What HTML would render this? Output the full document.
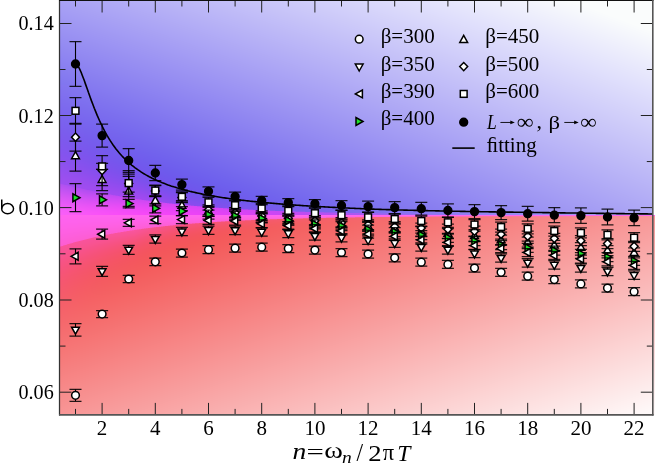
<!DOCTYPE html>
<html><head><meta charset="utf-8"><style>
html,body{margin:0;padding:0;background:#fff;}
body{width:655px;height:464px;overflow:hidden;position:relative;font-family:"Liberation Serif",serif;}
svg{position:absolute;left:0;top:0;will-change:transform;}
.c{stroke-width:1.25;stroke-opacity:0.85;}
.t{font-family:"Liberation Serif",serif;fill:#000;}
</style></head><body>
<svg width="655" height="464" style="position:absolute;left:0;top:0;"><defs>
<linearGradient id="fbB" gradientUnits="userSpaceOnUse" x1="59.5" y1="215" x2="170.6" y2="-127.1"><stop offset="0.00" stop-color="#4432e7"/><stop offset="0.25" stop-color="#6f62ed"/><stop offset="0.50" stop-color="#9e96f3"/><stop offset="0.75" stop-color="#ccc9f9"/><stop offset="1.00" stop-color="#fafcfc"/></linearGradient>
<linearGradient id="fbR" gradientUnits="userSpaceOnUse" x1="59.5" y1="215" x2="180.5" y2="570.7"><stop offset="0.00" stop-color="#f13232"/><stop offset="0.25" stop-color="#f46363"/><stop offset="0.50" stop-color="#f89595"/><stop offset="0.75" stop-color="#fbc6c6"/><stop offset="1.00" stop-color="#fef8f8"/></linearGradient>
<radialGradient id="fbM" gradientUnits="userSpaceOnUse" cx="59" cy="215" r="260" gradientTransform="translate(59 215) scale(1 0.13) translate(-59 -215)"><stop offset="0" stop-color="#ff5ef0" stop-opacity="0.95"/><stop offset="0.5" stop-color="#ff5ef0" stop-opacity="0.5"/><stop offset="1" stop-color="#ff5ef0" stop-opacity="0"/></radialGradient>
</defs><rect x="59" y="0" width="594" height="215" fill="url(#fbB)"/><rect x="59" y="215" width="594" height="200" fill="url(#fbR)"/><rect x="59" y="150" width="594" height="130" fill="url(#fbM)"/></svg>
<canvas id="bgc" width="596" height="415" style="position:absolute;left:59px;top:0px;"></canvas>
<script>
(function(){
var c=document.getElementById('bgc');var ctx=c.getContext('2d');
var W=c.width,H=c.height;var im=ctx.createImageData(W,H);var d=im.data;
var YB=215.0;
function cl(v){return v<0?0:(v>255?255:v);}
function glow(x,dd){
 var ad=Math.abs(dd),L,T,a1,a2,a0=0.97;
 if(dd<0){L=0.5+31*Math.exp(-Math.pow((x-59)/108,1.1)); a0=0.97*Math.exp(-Math.pow((x-59)/300,3)); a1=a0*(1-0.45*Math.min(1,L/25)); a2=0.45*Math.min(1,L/15); T=1.35*L;}
 else {L=1.0+31*Math.exp(-(x-59)/95); a1=0.8; a2=0.5*Math.min(1,L/15); T=1.13*L;}
 if(ad<L){return a0-(a0-a1)*Math.pow(ad/L,1.5);}
 return a2*Math.exp(-Math.pow((ad-L)/T,1.3));
}
for(var j=0;j<H;j++){var y=j+0.5;
 for(var i=0;i<W;i++){var x=i+59.5;
  var r,g,b;
  if(y<YB){
   var G=151.7+0.1762*x-0.542*y+0.0001169*x*y; if(G<50)G=50; if(G>252)G=252;
   r=G+3+0.1*(200-G); if(r>255)r=255; g=G; b=Math.min(252,225+0.12*G);
  } else {
   var v=103.5+0.17*(x-64)+0.5*(y-321); if(v<50)v=50; if(v>248)v=248;
   r=238+0.065*v; g=v; b=v;
  }
  var dd=y-YB; var a=0;
  if(Math.abs(dd)<130){
   var s=0; for(var q=0;q<4;q++){var yy=j+0.125+0.25*q; var d2=yy-YB; if(dd<0&&d2>=0)d2=-0.001; if(dd>=0&&d2<0)d2=0.001; s+=glow(x,d2);} a=s/4;
  }
  if(a>0.002){
   var gg,bb; if(dd<0){gg=55+40*Math.exp(-(x-64)/100); bb=248;} else {gg=100; bb=245;}
   r=r+a*(255-r); g=g+a*(gg-g); b=b+a*(bb-b);
  }
  if(x>653&&y<YB){r=255;g=255;b=255;}
  var k=(j*W+i)*4; d[k]=cl(r);d[k+1]=cl(g);d[k+2]=cl(b);d[k+3]=255;
 }}
ctx.putImageData(im,0,0);
})();
</script>

<svg width="655" height="464" viewBox="0 0 655 464">

<path d="M75.5 63.52 L76.9 64.52 L78.4 66.61 L79.8 69.41 L81.3 72.73 L82.7 76.41 L84.2 80.32 L85.6 84.37 L87.1 88.48 L88.5 92.59 L90.0 96.66 L91.4 100.64 L92.9 104.53 L94.3 108.29 L95.8 111.91 L97.2 115.40 L98.7 118.75 L100.1 121.95 L101.6 125.01 L103.0 127.94 L104.4 130.73 L105.9 133.40 L107.3 135.94 L108.8 138.36 L110.2 140.67 L111.7 142.88 L113.1 144.99 L114.6 147.00 L116.0 148.92 L117.5 150.75 L118.9 152.51 L120.4 154.19 L121.8 155.79 L123.3 157.33 L124.7 158.80 L126.2 160.22 L127.6 161.57 L129.1 162.88 L130.5 164.13 L131.9 165.33 L133.4 166.48 L134.8 167.59 L136.3 168.66 L137.7 169.69 L139.2 170.68 L140.6 171.64 L142.1 172.57 L143.5 173.46 L145.0 174.32 L146.4 175.15 L147.9 175.95 L149.3 176.73 L150.8 177.48 L152.2 178.21 L153.7 178.92 L155.1 179.60 L156.6 180.26 L158.0 180.90 L159.4 181.53 L160.9 182.13 L162.3 182.72 L163.8 183.29 L165.2 183.84 L166.7 184.38 L168.1 184.90 L169.6 185.41 L171.0 185.91 L172.5 186.39 L173.9 186.86 L175.4 187.31 L176.8 187.76 L178.3 188.19 L179.7 188.61 L181.2 189.03 L182.6 189.43 L184.1 189.82 L185.5 190.20 L186.9 190.58 L188.4 190.94 L189.8 191.30 L191.3 191.65 L192.7 191.99 L194.2 192.32 L195.6 192.64 L197.1 192.96 L198.5 193.27 L200.0 193.58 L201.4 193.87 L202.9 194.17 L204.3 194.45 L205.8 194.73 L207.2 195.00 L208.7 195.27 L210.1 195.53 L211.6 195.79 L213.0 196.04 L214.4 196.29 L215.9 196.53 L217.3 196.77 L218.8 197.00 L220.2 197.23 L221.7 197.46 L223.1 197.68 L224.6 197.89 L226.0 198.10 L227.5 198.31 L228.9 198.52 L230.4 198.72 L231.8 198.91 L233.3 199.11 L234.7 199.30 L236.2 199.49 L237.6 199.67 L239.1 199.85 L240.5 200.03 L241.9 200.20 L243.4 200.38 L244.8 200.54 L246.3 200.71 L247.7 200.87 L249.2 201.04 L250.6 201.19 L252.1 201.35 L253.5 201.50 L255.0 201.65 L256.4 201.80 L257.9 201.95 L259.3 202.09 L260.8 202.24 L262.2 202.38 L263.7 202.51 L265.1 202.65 L266.6 202.78 L268.0 202.92 L269.4 203.05 L270.9 203.17 L272.3 203.30 L273.8 203.42 L275.2 203.55 L276.7 203.67 L278.1 203.79 L279.6 203.90 L281.0 204.02 L282.5 204.14 L283.9 204.25 L285.4 204.36 L286.8 204.47 L288.3 204.58 L289.7 204.68 L291.2 204.79 L292.6 204.89 L294.1 205.00 L295.5 205.10 L296.9 205.20 L298.4 205.30 L299.8 205.40 L301.3 205.49 L302.7 205.59 L304.2 205.68 L305.6 205.77 L307.1 205.87 L308.5 205.96 L310.0 206.05 L311.4 206.14 L312.9 206.22 L314.3 206.31 L315.8 206.39 L317.2 206.48 L318.7 206.56 L320.1 206.64 L321.6 206.73 L323.0 206.81 L324.4 206.89 L325.9 206.96 L327.3 207.04 L328.8 207.12 L330.2 207.20 L331.7 207.27 L333.1 207.35 L334.6 207.42 L336.0 207.49 L337.5 207.56 L338.9 207.63 L340.4 207.71 L341.8 207.77 L343.3 207.84 L344.7 207.91 L346.2 207.98 L347.6 208.05 L349.1 208.11 L350.5 208.18 L351.9 208.24 L353.4 208.31 L354.8 208.37 L356.3 208.43 L357.7 208.49 L359.2 208.56 L360.6 208.62 L362.1 208.68 L363.5 208.74 L365.0 208.80 L366.4 208.85 L367.9 208.91 L369.3 208.97 L370.8 209.03 L372.2 209.08 L373.7 209.14 L375.1 209.19 L376.6 209.25 L378.0 209.30 L379.4 209.36 L380.9 209.40 L382.3 209.45 L383.8 209.50 L385.2 209.54 L386.7 209.58 L388.1 209.63 L389.6 209.67 L391.0 209.72 L392.5 209.76 L393.9 209.80 L395.4 209.84 L396.8 209.88 L398.3 209.92 L399.7 209.96 L401.2 210.00 L402.6 210.04 L404.1 210.08 L405.5 210.12 L406.9 210.16 L408.4 210.20 L409.8 210.24 L411.3 210.27 L412.7 210.31 L414.2 210.35 L415.6 210.38 L417.1 210.42 L418.5 210.45 L420.0 210.49 L421.4 210.52 L422.9 210.56 L424.3 210.59 L425.8 210.62 L427.2 210.66 L428.7 210.69 L430.1 210.72 L431.6 210.76 L433.0 210.79 L434.4 210.82 L435.9 210.85 L437.3 210.88 L438.8 210.91 L440.2 210.94 L441.7 210.97 L443.1 211.00 L444.6 211.03 L446.0 211.06 L447.5 211.09 L448.9 211.12 L450.4 211.15 L451.8 211.18 L453.3 211.21 L454.7 211.23 L456.2 211.26 L457.6 211.29 L459.1 211.32 L460.5 211.34 L461.9 211.37 L463.4 211.39 L464.8 211.42 L466.3 211.45 L467.7 211.47 L469.2 211.50 L470.6 211.52 L472.1 211.55 L473.5 211.57 L475.0 211.60 L476.4 211.62 L477.9 211.64 L479.3 211.67 L480.8 211.69 L482.2 211.71 L483.7 211.74 L485.1 211.76 L486.6 211.78 L488.0 211.80 L489.4 211.83 L490.9 211.85 L492.3 211.87 L493.8 211.89 L495.2 211.91 L496.7 211.93 L498.1 211.96 L499.6 211.98 L501.0 212.00 L502.5 212.02 L503.9 212.04 L505.4 212.06 L506.8 212.08 L508.3 212.10 L509.7 212.12 L511.2 212.14 L512.6 212.16 L514.1 212.18 L515.5 212.19 L516.9 212.21 L518.4 212.23 L519.8 212.25 L521.3 212.27 L522.7 212.29 L524.2 212.30 L525.6 212.32 L527.1 212.34 L528.5 212.36 L530.0 212.37 L531.4 212.40 L532.9 212.42 L534.3 212.44 L535.8 212.47 L537.2 212.49 L538.7 212.51 L540.1 212.54 L541.6 212.56 L543.0 212.58 L544.4 212.61 L545.9 212.63 L547.3 212.65 L548.8 212.67 L550.2 212.69 L551.7 212.72 L553.1 212.74 L554.6 212.76 L556.0 212.78 L557.5 212.80 L558.9 212.82 L560.4 212.84 L561.8 212.87 L563.3 212.89 L564.7 212.91 L566.2 212.93 L567.6 212.95 L569.1 212.97 L570.5 212.99 L571.9 213.01 L573.4 213.03 L574.8 213.05 L576.3 213.07 L577.7 213.09 L579.2 213.11 L580.6 213.13 L582.1 213.15 L583.5 213.17 L585.0 213.18 L586.4 213.20 L587.9 213.22 L589.3 213.24 L590.8 213.26 L592.2 213.28 L593.7 213.30 L595.1 213.32 L596.6 213.33 L598.0 213.35 L599.4 213.37 L600.9 213.39 L602.3 213.41 L603.8 213.42 L605.2 213.44 L606.7 213.46 L608.1 213.48 L609.6 213.49 L611.0 213.51 L612.5 213.53 L613.9 213.54 L615.4 213.56 L616.8 213.58 L618.3 213.60 L619.7 213.61 L621.2 213.63 L622.6 213.65 L624.1 213.66 L625.5 213.68 L626.9 213.69 L628.4 213.71 L629.8 213.73 L631.3 213.74 L632.7 213.76 L634.2 213.77 L635.6 213.79 L637.1 213.81 L638.5 213.82 L640.0 213.84 L641.4 213.85 L642.9 213.87 L644.3 213.88 L645.8 213.90 L647.2 213.91 L648.7 213.93 L650.1 213.94 L651.6 213.96 L653.0 213.97" stroke="#000" stroke-width="1.6" fill="none"/>
<g stroke="#000" stroke-width="1.1" fill="none"><path d="M75.5 389.3V401.3"/><path class="c" d="M69.5 389.3H81.5M69.5 401.3H81.5"/><path d="M102.1 310.6V317.6"/><path class="c" d="M96.1 310.6H108.1M96.1 317.6H108.1"/><path d="M128.7 275.4V282.6"/><path class="c" d="M122.7 275.4H134.7M122.7 282.6H134.7"/><path d="M155.3 258V265.6"/><path class="c" d="M149.3 258H161.3M149.3 265.6H161.3"/><path d="M181.9 249V257"/><path class="c" d="M175.9 249H187.9M175.9 257H187.9"/><path d="M208.5 245.7V253.7"/><path class="c" d="M202.5 245.7H214.5M202.5 253.7H214.5"/><path d="M235.1 244.2V252.2"/><path class="c" d="M229.1 244.2H241.1M229.1 252.2H241.1"/><path d="M261.7 243.2V251.2"/><path class="c" d="M255.7 243.2H267.7M255.7 251.2H267.7"/><path d="M288.3 244.5V252.5"/><path class="c" d="M282.3 244.5H294.3M282.3 252.5H294.3"/><path d="M314.9 246.1V254.1"/><path class="c" d="M308.9 246.1H320.9M308.9 254.1H320.9"/><path d="M341.5 248.5V256.5"/><path class="c" d="M335.5 248.5H347.5M335.5 256.5H347.5"/><path d="M368.1 250V258"/><path class="c" d="M362.1 250H374.1M362.1 258H374.1"/><path d="M394.7 253.8V261.8"/><path class="c" d="M388.7 253.8H400.7M388.7 261.8H400.7"/><path d="M421.3 258.2V266.2"/><path class="c" d="M415.3 258.2H427.3M415.3 266.2H427.3"/><path d="M447.9 260.4V268.4"/><path class="c" d="M441.9 260.4H453.9M441.9 268.4H453.9"/><path d="M474.5 264V272"/><path class="c" d="M468.5 264H480.5M468.5 272H480.5"/><path d="M501.1 268.3V276.3"/><path class="c" d="M495.1 268.3H507.1M495.1 276.3H507.1"/><path d="M527.7 272.2V280.2"/><path class="c" d="M521.7 272.2H533.7M521.7 280.2H533.7"/><path d="M554.3 275.6V283.6"/><path class="c" d="M548.3 275.6H560.3M548.3 283.6H560.3"/><path d="M580.9 279.9V287.9"/><path class="c" d="M574.9 279.9H586.9M574.9 287.9H586.9"/><path d="M607.5 284.1V292.1"/><path class="c" d="M601.5 284.1H613.5M601.5 292.1H613.5"/><path d="M634.1 287.7V295.7"/><path class="c" d="M628.1 287.7H640.1M628.1 295.7H640.1"/></g><g stroke="#000" stroke-width="1.5"><circle cx="75.5" cy="395.3" r="3.85" fill="#fff"/><circle cx="102.1" cy="314.1" r="3.85" fill="#fff"/><circle cx="128.7" cy="279" r="3.85" fill="#fff"/><circle cx="155.3" cy="261.8" r="3.85" fill="#fff"/><circle cx="181.9" cy="253" r="3.85" fill="#fff"/><circle cx="208.5" cy="249.7" r="3.85" fill="#fff"/><circle cx="235.1" cy="248.2" r="3.85" fill="#fff"/><circle cx="261.7" cy="247.2" r="3.85" fill="#fff"/><circle cx="288.3" cy="248.5" r="3.85" fill="#fff"/><circle cx="314.9" cy="250.1" r="3.85" fill="#fff"/><circle cx="341.5" cy="252.5" r="3.85" fill="#fff"/><circle cx="368.1" cy="254" r="3.85" fill="#fff"/><circle cx="394.7" cy="257.8" r="3.85" fill="#fff"/><circle cx="421.3" cy="262.2" r="3.85" fill="#fff"/><circle cx="447.9" cy="264.4" r="3.85" fill="#fff"/><circle cx="474.5" cy="268" r="3.85" fill="#fff"/><circle cx="501.1" cy="272.3" r="3.85" fill="#fff"/><circle cx="527.7" cy="276.2" r="3.85" fill="#fff"/><circle cx="554.3" cy="279.6" r="3.85" fill="#fff"/><circle cx="580.9" cy="283.9" r="3.85" fill="#fff"/><circle cx="607.5" cy="288.1" r="3.85" fill="#fff"/><circle cx="634.1" cy="291.7" r="3.85" fill="#fff"/></g><g stroke="#000" stroke-width="1.1" fill="none"><path d="M75.5 323.5V336.1"/><path class="c" d="M69.5 323.5H81.5M69.5 336.1H81.5"/><path d="M102.1 266.3V276.3"/><path class="c" d="M96.1 266.3H108.1M96.1 276.3H108.1"/><path d="M128.7 245.3V254.3"/><path class="c" d="M122.7 245.3H134.7M122.7 254.3H134.7"/><path d="M155.3 234.8V243.2"/><path class="c" d="M149.3 234.8H161.3M149.3 243.2H161.3"/><path d="M181.9 227.3V235.7"/><path class="c" d="M175.9 227.3H187.9M175.9 235.7H187.9"/><path d="M208.5 226V234.4"/><path class="c" d="M202.5 226H214.5M202.5 234.4H214.5"/><path d="M235.1 226.1V234.5"/><path class="c" d="M229.1 226.1H241.1M229.1 234.5H241.1"/><path d="M261.7 227.7V236.1"/><path class="c" d="M255.7 227.7H267.7M255.7 236.1H267.7"/><path d="M288.3 229.2V237.6"/><path class="c" d="M282.3 229.2H294.3M282.3 237.6H294.3"/><path d="M314.9 231.8V240.2"/><path class="c" d="M308.9 231.8H320.9M308.9 240.2H320.9"/><path d="M341.5 233.5V241.9"/><path class="c" d="M335.5 233.5H347.5M335.5 241.9H347.5"/><path d="M368.1 235.9V244.3"/><path class="c" d="M362.1 235.9H374.1M362.1 244.3H374.1"/><path d="M394.7 238.9V247.3"/><path class="c" d="M388.7 238.9H400.7M388.7 247.3H400.7"/><path d="M421.3 242.8V251.2"/><path class="c" d="M415.3 242.8H427.3M415.3 251.2H427.3"/><path d="M447.9 245.6V254"/><path class="c" d="M441.9 245.6H453.9M441.9 254H453.9"/><path d="M474.5 249.3V257.7"/><path class="c" d="M468.5 249.3H480.5M468.5 257.7H480.5"/><path d="M501.1 253.8V262.2"/><path class="c" d="M495.1 253.8H507.1M495.1 262.2H507.1"/><path d="M527.7 258.6V267"/><path class="c" d="M521.7 258.6H533.7M521.7 267H533.7"/><path d="M554.3 260.7V269.1"/><path class="c" d="M548.3 260.7H560.3M548.3 269.1H560.3"/><path d="M580.9 263.8V272.2"/><path class="c" d="M574.9 263.8H586.9M574.9 272.2H586.9"/><path d="M607.5 267.3V275.7"/><path class="c" d="M601.5 267.3H613.5M601.5 275.7H613.5"/><path d="M634.1 270.9V279.3"/><path class="c" d="M628.1 270.9H640.1M628.1 279.3H640.1"/></g><g stroke="#000" stroke-width="1.5"><path d="M75.5 334.2L79.4 327.2L71.6 327.2Z" fill="#fff"/><path d="M102.1 275.7L106 268.7L98.2 268.7Z" fill="#fff"/><path d="M128.7 254.2L132.6 247.2L124.8 247.2Z" fill="#fff"/><path d="M155.3 243.4L159.2 236.4L151.4 236.4Z" fill="#fff"/><path d="M181.9 235.9L185.8 228.9L178 228.9Z" fill="#fff"/><path d="M208.5 234.6L212.4 227.6L204.6 227.6Z" fill="#fff"/><path d="M235.1 234.7L239 227.7L231.2 227.7Z" fill="#fff"/><path d="M261.7 236.3L265.6 229.3L257.8 229.3Z" fill="#fff"/><path d="M288.3 237.8L292.2 230.8L284.4 230.8Z" fill="#fff"/><path d="M314.9 240.4L318.8 233.4L311 233.4Z" fill="#fff"/><path d="M341.5 242.1L345.4 235.1L337.6 235.1Z" fill="#fff"/><path d="M368.1 244.5L372 237.5L364.2 237.5Z" fill="#fff"/><path d="M394.7 247.5L398.6 240.5L390.8 240.5Z" fill="#fff"/><path d="M421.3 251.4L425.2 244.4L417.4 244.4Z" fill="#fff"/><path d="M447.9 254.2L451.8 247.2L444 247.2Z" fill="#fff"/><path d="M474.5 257.9L478.4 250.9L470.6 250.9Z" fill="#fff"/><path d="M501.1 262.4L505 255.4L497.2 255.4Z" fill="#fff"/><path d="M527.7 267.2L531.6 260.2L523.8 260.2Z" fill="#fff"/><path d="M554.3 269.3L558.2 262.3L550.4 262.3Z" fill="#fff"/><path d="M580.9 272.4L584.8 265.4L577 265.4Z" fill="#fff"/><path d="M607.5 275.9L611.4 268.9L603.6 268.9Z" fill="#fff"/><path d="M634.1 279.5L638 272.5L630.2 272.5Z" fill="#fff"/></g><g stroke="#000" stroke-width="1.1" fill="none"><path d="M75.5 141.1V171.1"/><path class="c" d="M69.5 141.1H81.5M69.5 171.1H81.5"/><path d="M102.1 169.3V190.5"/><path class="c" d="M96.1 169.3H108.1M96.1 190.5H108.1"/><path d="M128.7 176.4V206.4"/><path class="c" d="M122.7 176.4H134.7M122.7 206.4H134.7"/><path d="M155.3 195.8V205.8"/><path class="c" d="M149.3 195.8H161.3M149.3 205.8H161.3"/><path d="M181.9 200.6V210.6"/><path class="c" d="M175.9 200.6H187.9M175.9 210.6H187.9"/><path d="M208.5 206.3V216.3"/><path class="c" d="M202.5 206.3H214.5M202.5 216.3H214.5"/><path d="M235.1 209.2V219.2"/><path class="c" d="M229.1 209.2H241.1M229.1 219.2H241.1"/><path d="M261.7 212.4V222.4"/><path class="c" d="M255.7 212.4H267.7M255.7 222.4H267.7"/><path d="M288.3 214.8V224.8"/><path class="c" d="M282.3 214.8H294.3M282.3 224.8H294.3"/><path d="M314.9 217.2V227.2"/><path class="c" d="M308.9 217.2H320.9M308.9 227.2H320.9"/><path d="M341.5 219.2V229.2"/><path class="c" d="M335.5 219.2H347.5M335.5 229.2H347.5"/><path d="M368.1 221.3V231.3"/><path class="c" d="M362.1 221.3H374.1M362.1 231.3H374.1"/><path d="M394.7 223V233"/><path class="c" d="M388.7 223H400.7M388.7 233H400.7"/><path d="M421.3 226.5V236.5"/><path class="c" d="M415.3 226.5H427.3M415.3 236.5H427.3"/><path d="M447.9 228.7V238.7"/><path class="c" d="M441.9 228.7H453.9M441.9 238.7H453.9"/><path d="M474.5 231V241"/><path class="c" d="M468.5 231H480.5M468.5 241H480.5"/><path d="M501.1 235.1V245.1"/><path class="c" d="M495.1 235.1H507.1M495.1 245.1H507.1"/><path d="M527.7 237.2V247.2"/><path class="c" d="M521.7 237.2H533.7M521.7 247.2H533.7"/><path d="M554.3 240.3V250.3"/><path class="c" d="M548.3 240.3H560.3M548.3 250.3H560.3"/><path d="M580.9 242.6V252.6"/><path class="c" d="M574.9 242.6H586.9M574.9 252.6H586.9"/><path d="M607.5 245.5V255.5"/><path class="c" d="M601.5 245.5H613.5M601.5 255.5H613.5"/><path d="M634.1 247.8V257.8"/><path class="c" d="M628.1 247.8H640.1M628.1 257.8H640.1"/></g><g stroke="#000" stroke-width="1.5"><path d="M75.5 151.7L79.4 158.7L71.6 158.7Z" fill="#fff"/><path d="M102.1 175.5L106 182.5L98.2 182.5Z" fill="#fff"/><path d="M128.7 187L132.6 194L124.8 194Z" fill="#fff"/><path d="M155.3 196.4L159.2 203.4L151.4 203.4Z" fill="#fff"/><path d="M181.9 201.2L185.8 208.2L178 208.2Z" fill="#fff"/><path d="M208.5 206.9L212.4 213.9L204.6 213.9Z" fill="#fff"/><path d="M235.1 209.8L239 216.8L231.2 216.8Z" fill="#fff"/><path d="M261.7 213L265.6 220L257.8 220Z" fill="#fff"/><path d="M288.3 215.4L292.2 222.4L284.4 222.4Z" fill="#fff"/><path d="M314.9 217.8L318.8 224.8L311 224.8Z" fill="#fff"/><path d="M341.5 219.8L345.4 226.8L337.6 226.8Z" fill="#fff"/><path d="M368.1 221.9L372 228.9L364.2 228.9Z" fill="#fff"/><path d="M394.7 223.6L398.6 230.6L390.8 230.6Z" fill="#fff"/><path d="M421.3 227.1L425.2 234.1L417.4 234.1Z" fill="#fff"/><path d="M447.9 229.3L451.8 236.3L444 236.3Z" fill="#fff"/><path d="M474.5 231.6L478.4 238.6L470.6 238.6Z" fill="#fff"/><path d="M501.1 235.7L505 242.7L497.2 242.7Z" fill="#fff"/><path d="M527.7 237.8L531.6 244.8L523.8 244.8Z" fill="#fff"/><path d="M554.3 240.9L558.2 247.9L550.4 247.9Z" fill="#fff"/><path d="M580.9 243.2L584.8 250.2L577 250.2Z" fill="#fff"/><path d="M607.5 246.1L611.4 253.1L603.6 253.1Z" fill="#fff"/><path d="M634.1 248.4L638 255.4L630.2 255.4Z" fill="#fff"/></g><g stroke="#000" stroke-width="1.1" fill="none"><path d="M75.5 123.4V151"/><path class="c" d="M69.5 123.4H81.5M69.5 151H81.5"/><path d="M102.1 155.5V185.5"/><path class="c" d="M96.1 155.5H108.1M96.1 185.5H108.1"/><path d="M128.7 170.6V196.6"/><path class="c" d="M122.7 170.6H134.7M122.7 196.6H134.7"/><path d="M155.3 185.5V196.5"/><path class="c" d="M149.3 185.5H161.3M149.3 196.5H161.3"/><path d="M181.9 192.6V202.6"/><path class="c" d="M175.9 192.6H187.9M175.9 202.6H187.9"/><path d="M208.5 204.8V214.8"/><path class="c" d="M202.5 204.8H214.5M202.5 214.8H214.5"/><path d="M235.1 207.7V217.7"/><path class="c" d="M229.1 207.7H241.1M229.1 217.7H241.1"/><path d="M261.7 210.9V220.9"/><path class="c" d="M255.7 210.9H267.7M255.7 220.9H267.7"/><path d="M288.3 213.3V223.3"/><path class="c" d="M282.3 213.3H294.3M282.3 223.3H294.3"/><path d="M314.9 215.7V225.7"/><path class="c" d="M308.9 215.7H320.9M308.9 225.7H320.9"/><path d="M341.5 217.7V227.7"/><path class="c" d="M335.5 217.7H347.5M335.5 227.7H347.5"/><path d="M368.1 219.8V229.8"/><path class="c" d="M362.1 219.8H374.1M362.1 229.8H374.1"/><path d="M394.7 221.5V231.5"/><path class="c" d="M388.7 221.5H400.7M388.7 231.5H400.7"/><path d="M421.3 223V233"/><path class="c" d="M415.3 223H427.3M415.3 233H427.3"/><path d="M447.9 224.2V234.2"/><path class="c" d="M441.9 224.2H453.9M441.9 234.2H453.9"/><path d="M474.5 226.2V236.2"/><path class="c" d="M468.5 226.2H480.5M468.5 236.2H480.5"/><path d="M501.1 229.2V239.2"/><path class="c" d="M495.1 229.2H507.1M495.1 239.2H507.1"/><path d="M527.7 231.2V241.2"/><path class="c" d="M521.7 231.2H533.7M521.7 241.2H533.7"/><path d="M554.3 233.4V243.4"/><path class="c" d="M548.3 233.4H560.3M548.3 243.4H560.3"/><path d="M580.9 235.7V245.7"/><path class="c" d="M574.9 235.7H586.9M574.9 245.7H586.9"/><path d="M607.5 238.6V248.6"/><path class="c" d="M601.5 238.6H613.5M601.5 248.6H613.5"/><path d="M634.1 241.3V251.3"/><path class="c" d="M628.1 241.3H640.1M628.1 251.3H640.1"/></g><g stroke="#000" stroke-width="1.5"><path d="M75.5 133.1L79.45 137.2L75.5 141.3L71.55 137.2Z" fill="#fff"/><path d="M102.1 166.4L106.05 170.5L102.1 174.6L98.15 170.5Z" fill="#fff"/><path d="M128.7 179.5L132.65 183.6L128.7 187.7L124.75 183.6Z" fill="#fff"/><path d="M155.3 186.9L159.25 191L155.3 195.1L151.35 191Z" fill="#fff"/><path d="M181.9 193.5L185.85 197.6L181.9 201.7L177.95 197.6Z" fill="#fff"/><path d="M208.5 205.7L212.45 209.8L208.5 213.9L204.55 209.8Z" fill="#fff"/><path d="M235.1 208.6L239.05 212.7L235.1 216.8L231.15 212.7Z" fill="#fff"/><path d="M261.7 211.8L265.65 215.9L261.7 220L257.75 215.9Z" fill="#fff"/><path d="M288.3 214.2L292.25 218.3L288.3 222.4L284.35 218.3Z" fill="#fff"/><path d="M314.9 216.6L318.85 220.7L314.9 224.8L310.95 220.7Z" fill="#fff"/><path d="M341.5 218.6L345.45 222.7L341.5 226.8L337.55 222.7Z" fill="#fff"/><path d="M368.1 220.7L372.05 224.8L368.1 228.9L364.15 224.8Z" fill="#fff"/><path d="M394.7 222.4L398.65 226.5L394.7 230.6L390.75 226.5Z" fill="#fff"/><path d="M421.3 223.9L425.25 228L421.3 232.1L417.35 228Z" fill="#fff"/><path d="M447.9 225.1L451.85 229.2L447.9 233.3L443.95 229.2Z" fill="#fff"/><path d="M474.5 227.1L478.45 231.2L474.5 235.3L470.55 231.2Z" fill="#fff"/><path d="M501.1 230.1L505.05 234.2L501.1 238.3L497.15 234.2Z" fill="#fff"/><path d="M527.7 232.1L531.65 236.2L527.7 240.3L523.75 236.2Z" fill="#fff"/><path d="M554.3 234.3L558.25 238.4L554.3 242.5L550.35 238.4Z" fill="#fff"/><path d="M580.9 236.6L584.85 240.7L580.9 244.8L576.95 240.7Z" fill="#fff"/><path d="M607.5 239.5L611.45 243.6L607.5 247.7L603.55 243.6Z" fill="#fff"/><path d="M634.1 242.2L638.05 246.3L634.1 250.4L630.15 246.3Z" fill="#fff"/></g><g stroke="#000" stroke-width="1.1" fill="none"><path d="M75.5 183.7V211.7"/><path class="c" d="M69.5 183.7H81.5M69.5 211.7H81.5"/><path d="M102.1 193.8V205.8"/><path class="c" d="M96.1 193.8H108.1M96.1 205.8H108.1"/><path d="M128.7 199.4V207.8"/><path class="c" d="M122.7 199.4H134.7M122.7 207.8H134.7"/><path d="M155.3 203.8V212.8"/><path class="c" d="M149.3 203.8H161.3M149.3 212.8H161.3"/><path d="M181.9 206.7V215.7"/><path class="c" d="M175.9 206.7H187.9M175.9 215.7H187.9"/><path d="M208.5 210.2V219.2"/><path class="c" d="M202.5 210.2H214.5M202.5 219.2H214.5"/><path d="M235.1 211.4V220.4"/><path class="c" d="M229.1 211.4H241.1M229.1 220.4H241.1"/><path d="M261.7 213.9V222.9"/><path class="c" d="M255.7 213.9H267.7M255.7 222.9H267.7"/><path d="M288.3 216V225"/><path class="c" d="M282.3 216H294.3M282.3 225H294.3"/><path d="M314.9 219.8V228.8"/><path class="c" d="M308.9 219.8H320.9M308.9 228.8H320.9"/><path d="M341.5 221.5V230.5"/><path class="c" d="M335.5 221.5H347.5M335.5 230.5H347.5"/><path d="M368.1 225.1V234.1"/><path class="c" d="M362.1 225.1H374.1M362.1 234.1H374.1"/><path d="M394.7 227.5V236.5"/><path class="c" d="M388.7 227.5H400.7M388.7 236.5H400.7"/><path d="M421.3 230.5V239.5"/><path class="c" d="M415.3 230.5H427.3M415.3 239.5H427.3"/><path d="M447.9 233.3V242.3"/><path class="c" d="M441.9 233.3H453.9M441.9 242.3H453.9"/><path d="M474.5 236.5V245.5"/><path class="c" d="M468.5 236.5H480.5M468.5 245.5H480.5"/><path d="M501.1 240.5V249.5"/><path class="c" d="M495.1 240.5H507.1M495.1 249.5H507.1"/><path d="M527.7 243.3V252.3"/><path class="c" d="M521.7 243.3H533.7M521.7 252.3H533.7"/><path d="M554.3 246.2V255.2"/><path class="c" d="M548.3 246.2H560.3M548.3 255.2H560.3"/><path d="M580.9 249.3V258.3"/><path class="c" d="M574.9 249.3H586.9M574.9 258.3H586.9"/><path d="M607.5 252.6V261.6"/><path class="c" d="M601.5 252.6H613.5M601.5 261.6H613.5"/><path d="M634.1 256.4V265.4"/><path class="c" d="M628.1 256.4H640.1M628.1 265.4H640.1"/></g><g stroke="#000" stroke-width="1.5"><path d="M79.9 197.7L72.9 193.8L72.9 201.6Z" fill="#1ee22a"/><path d="M106.5 199.8L99.5 195.9L99.5 203.7Z" fill="#1ee22a"/><path d="M133.1 203.6L126.1 199.7L126.1 207.5Z" fill="#1ee22a"/><path d="M159.7 208.3L152.7 204.4L152.7 212.2Z" fill="#1ee22a"/><path d="M186.3 211.2L179.3 207.3L179.3 215.1Z" fill="#1ee22a"/><path d="M212.9 214.7L205.9 210.8L205.9 218.6Z" fill="#1ee22a"/><path d="M239.5 215.9L232.5 212L232.5 219.8Z" fill="#1ee22a"/><path d="M266.1 218.4L259.1 214.5L259.1 222.3Z" fill="#1ee22a"/><path d="M292.7 220.5L285.7 216.6L285.7 224.4Z" fill="#1ee22a"/><path d="M319.3 224.3L312.3 220.4L312.3 228.2Z" fill="#1ee22a"/><path d="M345.9 226L338.9 222.1L338.9 229.9Z" fill="#1ee22a"/><path d="M372.5 229.6L365.5 225.7L365.5 233.5Z" fill="#1ee22a"/><path d="M399.1 232L392.1 228.1L392.1 235.9Z" fill="#1ee22a"/><path d="M425.7 235L418.7 231.1L418.7 238.9Z" fill="#1ee22a"/><path d="M452.3 237.8L445.3 233.9L445.3 241.7Z" fill="#1ee22a"/><path d="M478.9 241L471.9 237.1L471.9 244.9Z" fill="#1ee22a"/><path d="M505.5 245L498.5 241.1L498.5 248.9Z" fill="#1ee22a"/><path d="M532.1 247.8L525.1 243.9L525.1 251.7Z" fill="#1ee22a"/><path d="M558.7 250.7L551.7 246.8L551.7 254.6Z" fill="#1ee22a"/><path d="M585.3 253.8L578.3 249.9L578.3 257.7Z" fill="#1ee22a"/><path d="M611.9 257.1L604.9 253.2L604.9 261Z" fill="#1ee22a"/><path d="M638.5 260.9L631.5 257L631.5 264.8Z" fill="#1ee22a"/></g><g stroke="#000" stroke-width="1.1" fill="none"><path d="M75.5 248.8V263.8"/><path class="c" d="M69.5 248.8H81.5M69.5 263.8H81.5"/><path d="M102.1 229.2V239.2"/><path class="c" d="M96.1 229.2H108.1M96.1 239.2H108.1"/><path d="M128.7 219.3V226.3"/><path class="c" d="M122.7 219.3H134.7M122.7 226.3H134.7"/><path d="M155.3 216.1V223.7"/><path class="c" d="M149.3 216.1H161.3M149.3 223.7H161.3"/><path d="M181.9 215.6V223.6"/><path class="c" d="M175.9 215.6H187.9M175.9 223.6H187.9"/><path d="M208.5 216.4V224.4"/><path class="c" d="M202.5 216.4H214.5M202.5 224.4H214.5"/><path d="M235.1 217V225"/><path class="c" d="M229.1 217H241.1M229.1 225H241.1"/><path d="M261.7 219.8V227.8"/><path class="c" d="M255.7 219.8H267.7M255.7 227.8H267.7"/><path d="M288.3 221.7V229.7"/><path class="c" d="M282.3 221.7H294.3M282.3 229.7H294.3"/><path d="M314.9 224.5V232.5"/><path class="c" d="M308.9 224.5H320.9M308.9 232.5H320.9"/><path d="M341.5 226.9V234.9"/><path class="c" d="M335.5 226.9H347.5M335.5 234.9H347.5"/><path d="M368.1 230.1V238.1"/><path class="c" d="M362.1 230.1H374.1M362.1 238.1H374.1"/><path d="M394.7 232.3V240.3"/><path class="c" d="M388.7 232.3H400.7M388.7 240.3H400.7"/><path d="M421.3 236V244"/><path class="c" d="M415.3 236H427.3M415.3 244H427.3"/><path d="M447.9 238.4V246.4"/><path class="c" d="M441.9 238.4H453.9M441.9 246.4H453.9"/><path d="M474.5 241.6V249.6"/><path class="c" d="M468.5 241.6H480.5M468.5 249.6H480.5"/><path d="M501.1 244.6V252.6"/><path class="c" d="M495.1 244.6H507.1M495.1 252.6H507.1"/><path d="M527.7 248.5V256.5"/><path class="c" d="M521.7 248.5H533.7M521.7 256.5H533.7"/><path d="M554.3 251.4V259.4"/><path class="c" d="M548.3 251.4H560.3M548.3 259.4H560.3"/><path d="M580.9 255V263"/><path class="c" d="M574.9 255H586.9M574.9 263H586.9"/><path d="M607.5 257.8V265.8"/><path class="c" d="M601.5 257.8H613.5M601.5 265.8H613.5"/><path d="M634.1 261.4V269.4"/><path class="c" d="M628.1 261.4H640.1M628.1 269.4H640.1"/></g><g stroke="#000" stroke-width="1.5"><path d="M71.1 256.3L78.1 252.4L78.1 260.2Z" fill="#fff"/><path d="M97.7 234.2L104.7 230.3L104.7 238.1Z" fill="#fff"/><path d="M124.3 222.8L131.3 218.9L131.3 226.7Z" fill="#fff"/><path d="M150.9 219.9L157.9 216L157.9 223.8Z" fill="#fff"/><path d="M177.5 219.6L184.5 215.7L184.5 223.5Z" fill="#fff"/><path d="M204.1 220.4L211.1 216.5L211.1 224.3Z" fill="#fff"/><path d="M230.7 221L237.7 217.1L237.7 224.9Z" fill="#fff"/><path d="M257.3 223.8L264.3 219.9L264.3 227.7Z" fill="#fff"/><path d="M283.9 225.7L290.9 221.8L290.9 229.6Z" fill="#fff"/><path d="M310.5 228.5L317.5 224.6L317.5 232.4Z" fill="#fff"/><path d="M337.1 230.9L344.1 227L344.1 234.8Z" fill="#fff"/><path d="M363.7 234.1L370.7 230.2L370.7 238Z" fill="#fff"/><path d="M390.3 236.3L397.3 232.4L397.3 240.2Z" fill="#fff"/><path d="M416.9 240L423.9 236.1L423.9 243.9Z" fill="#fff"/><path d="M443.5 242.4L450.5 238.5L450.5 246.3Z" fill="#fff"/><path d="M470.1 245.6L477.1 241.7L477.1 249.5Z" fill="#fff"/><path d="M496.7 248.6L503.7 244.7L503.7 252.5Z" fill="#fff"/><path d="M523.3 252.5L530.3 248.6L530.3 256.4Z" fill="#fff"/><path d="M549.9 255.4L556.9 251.5L556.9 259.3Z" fill="#fff"/><path d="M576.5 259L583.5 255.1L583.5 262.9Z" fill="#fff"/><path d="M603.1 261.8L610.1 257.9L610.1 265.7Z" fill="#fff"/><path d="M629.7 265.4L636.7 261.5L636.7 269.3Z" fill="#fff"/></g><g stroke="#000" stroke-width="1.1" fill="none"><path d="M75.5 97.6V124"/><path class="c" d="M69.5 97.6H81.5M69.5 124H81.5"/><path d="M102.1 163.4V169.4"/><path class="c" d="M96.1 163.4H108.1M96.1 169.4H108.1"/><path d="M128.7 174.1V192.1"/><path class="c" d="M122.7 174.1H134.7M122.7 192.1H134.7"/><path d="M155.3 185V196"/><path class="c" d="M149.3 185H161.3M149.3 196H161.3"/><path d="M181.9 191.8V201.8"/><path class="c" d="M175.9 191.8H187.9M175.9 201.8H187.9"/><path d="M208.5 197.3V207.3"/><path class="c" d="M202.5 197.3H214.5M202.5 207.3H214.5"/><path d="M235.1 200.2V210.2"/><path class="c" d="M229.1 200.2H241.1M229.1 210.2H241.1"/><path d="M261.7 203.4V213.4"/><path class="c" d="M255.7 203.4H267.7M255.7 213.4H267.7"/><path d="M288.3 205.8V215.8"/><path class="c" d="M282.3 205.8H294.3M282.3 215.8H294.3"/><path d="M314.9 208.2V218.2"/><path class="c" d="M308.9 208.2H320.9M308.9 218.2H320.9"/><path d="M341.5 210.2V220.2"/><path class="c" d="M335.5 210.2H347.5M335.5 220.2H347.5"/><path d="M368.1 212.3V222.3"/><path class="c" d="M362.1 212.3H374.1M362.1 222.3H374.1"/><path d="M394.7 214V224"/><path class="c" d="M388.7 214H400.7M388.7 224H400.7"/><path d="M421.3 216V226"/><path class="c" d="M415.3 216H427.3M415.3 226H427.3"/><path d="M447.9 217.3V227.3"/><path class="c" d="M441.9 217.3H453.9M441.9 227.3H453.9"/><path d="M474.5 219.5V229.5"/><path class="c" d="M468.5 219.5H480.5M468.5 229.5H480.5"/><path d="M501.1 222V232"/><path class="c" d="M495.1 222H507.1M495.1 232H507.1"/><path d="M527.7 223.8V233.8"/><path class="c" d="M521.7 223.8H533.7M521.7 233.8H533.7"/><path d="M554.3 226V236"/><path class="c" d="M548.3 226H560.3M548.3 236H560.3"/><path d="M580.9 227.9V237.9"/><path class="c" d="M574.9 227.9H586.9M574.9 237.9H586.9"/><path d="M607.5 229.8V239.8"/><path class="c" d="M601.5 229.8H613.5M601.5 239.8H613.5"/><path d="M634.1 232.7V242.7"/><path class="c" d="M628.1 232.7H640.1M628.1 242.7H640.1"/></g><g stroke="#000" stroke-width="1.5"><rect x="72.1" y="107.4" width="6.8" height="6.8" fill="#fff"/><rect x="98.7" y="163" width="6.8" height="6.8" fill="#fff"/><rect x="125.3" y="179.7" width="6.8" height="6.8" fill="#fff"/><rect x="151.9" y="187.1" width="6.8" height="6.8" fill="#fff"/><rect x="178.5" y="193.4" width="6.8" height="6.8" fill="#fff"/><rect x="205.1" y="198.9" width="6.8" height="6.8" fill="#fff"/><rect x="231.7" y="201.8" width="6.8" height="6.8" fill="#fff"/><rect x="258.3" y="205" width="6.8" height="6.8" fill="#fff"/><rect x="284.9" y="207.4" width="6.8" height="6.8" fill="#fff"/><rect x="311.5" y="209.8" width="6.8" height="6.8" fill="#fff"/><rect x="338.1" y="211.8" width="6.8" height="6.8" fill="#fff"/><rect x="364.7" y="213.9" width="6.8" height="6.8" fill="#fff"/><rect x="391.3" y="215.6" width="6.8" height="6.8" fill="#fff"/><rect x="417.9" y="217.6" width="6.8" height="6.8" fill="#fff"/><rect x="444.5" y="218.9" width="6.8" height="6.8" fill="#fff"/><rect x="471.1" y="221.1" width="6.8" height="6.8" fill="#fff"/><rect x="497.7" y="223.6" width="6.8" height="6.8" fill="#fff"/><rect x="524.3" y="225.4" width="6.8" height="6.8" fill="#fff"/><rect x="550.9" y="227.6" width="6.8" height="6.8" fill="#fff"/><rect x="577.5" y="229.5" width="6.8" height="6.8" fill="#fff"/><rect x="604.1" y="231.4" width="6.8" height="6.8" fill="#fff"/><rect x="630.7" y="234.3" width="6.8" height="6.8" fill="#fff"/></g><g stroke="#000" stroke-width="1.1" fill="none"><path d="M75.5 41.6V86.4"/><path class="c" d="M69.5 41.6H81.5M69.5 86.4H81.5"/><path d="M102.1 124.2V147"/><path class="c" d="M96.1 124.2H108.1M96.1 147H108.1"/><path d="M128.7 148.6V172.4"/><path class="c" d="M122.7 148.6H134.7M122.7 172.4H134.7"/><path d="M155.3 165.4V180.6"/><path class="c" d="M149.3 165.4H161.3M149.3 180.6H161.3"/><path d="M181.9 179.1V190.1"/><path class="c" d="M175.9 179.1H187.9M175.9 190.1H187.9"/><path d="M208.5 186.8V195.8"/><path class="c" d="M202.5 186.8H214.5M202.5 195.8H214.5"/><path d="M235.1 192.2V200.8"/><path class="c" d="M229.1 192.2H241.1M229.1 200.8H241.1"/><path d="M261.7 196.3V204.7"/><path class="c" d="M255.7 196.3H267.7M255.7 204.7H267.7"/><path d="M288.3 198.5V206.7"/><path class="c" d="M282.3 198.5H294.3M282.3 206.7H294.3"/><path d="M314.9 199.6V207.8"/><path class="c" d="M308.9 199.6H320.9M308.9 207.8H320.9"/><path d="M341.5 200.7V210.3"/><path class="c" d="M335.5 200.7H347.5M335.5 210.3H347.5"/><path d="M368.1 201.2V212"/><path class="c" d="M362.1 201.2H374.1M362.1 212H374.1"/><path d="M394.7 201.6V213.6"/><path class="c" d="M388.7 201.6H400.7M388.7 213.6H400.7"/><path d="M421.3 202.4V215"/><path class="c" d="M415.3 202.4H427.3M415.3 215H427.3"/><path d="M447.9 203.9V217.1"/><path class="c" d="M441.9 203.9H453.9M441.9 217.1H453.9"/><path d="M474.5 204.7V218.5"/><path class="c" d="M468.5 204.7H480.5M468.5 218.5H480.5"/><path d="M501.1 205.5V219.7"/><path class="c" d="M495.1 205.5H507.1M495.1 219.7H507.1"/><path d="M527.7 206.4V221"/><path class="c" d="M521.7 206.4H533.7M521.7 221H533.7"/><path d="M554.3 207.6V222.6"/><path class="c" d="M548.3 207.6H560.3M548.3 222.6H560.3"/><path d="M580.9 207.9V223.3"/><path class="c" d="M574.9 207.9H586.9M574.9 223.3H586.9"/><path d="M607.5 209.1V224.9"/><path class="c" d="M601.5 209.1H613.5M601.5 224.9H613.5"/><path d="M634.1 210.1V225.7"/><path class="c" d="M628.1 210.1H640.1M628.1 225.7H640.1"/></g><g stroke="#000" stroke-width="1.5"><circle cx="75.5" cy="64" r="3.9" fill="#000"/><circle cx="102.1" cy="135.6" r="3.9" fill="#000"/><circle cx="128.7" cy="160.5" r="3.9" fill="#000"/><circle cx="155.3" cy="173" r="3.9" fill="#000"/><circle cx="181.9" cy="184.6" r="3.9" fill="#000"/><circle cx="208.5" cy="191.3" r="3.9" fill="#000"/><circle cx="235.1" cy="196.5" r="3.9" fill="#000"/><circle cx="261.7" cy="200.5" r="3.9" fill="#000"/><circle cx="288.3" cy="202.6" r="3.9" fill="#000"/><circle cx="314.9" cy="203.7" r="3.9" fill="#000"/><circle cx="341.5" cy="205.5" r="3.9" fill="#000"/><circle cx="368.1" cy="206.6" r="3.9" fill="#000"/><circle cx="394.7" cy="207.6" r="3.9" fill="#000"/><circle cx="421.3" cy="208.7" r="3.9" fill="#000"/><circle cx="447.9" cy="210.5" r="3.9" fill="#000"/><circle cx="474.5" cy="211.6" r="3.9" fill="#000"/><circle cx="501.1" cy="212.6" r="3.9" fill="#000"/><circle cx="527.7" cy="213.7" r="3.9" fill="#000"/><circle cx="554.3" cy="215.1" r="3.9" fill="#000"/><circle cx="580.9" cy="215.6" r="3.9" fill="#000"/><circle cx="607.5" cy="217" r="3.9" fill="#000"/><circle cx="634.1" cy="217.9" r="3.9" fill="#000"/></g>
<path d="M75.5 414.9V408.9M75.5 0.5V6.5M102.1 414.9V402.9M102.1 0.5V12.5M128.7 414.9V408.9M128.7 0.5V6.5M155.3 414.9V402.9M155.3 0.5V12.5M181.9 414.9V408.9M181.9 0.5V6.5M208.5 414.9V402.9M208.5 0.5V12.5M235.1 414.9V408.9M235.1 0.5V6.5M261.7 414.9V402.9M261.7 0.5V12.5M288.3 414.9V408.9M288.3 0.5V6.5M314.9 414.9V402.9M314.9 0.5V12.5M341.5 414.9V408.9M341.5 0.5V6.5M368.1 414.9V402.9M368.1 0.5V12.5M394.7 414.9V408.9M394.7 0.5V6.5M421.3 414.9V402.9M421.3 0.5V12.5M447.9 414.9V408.9M447.9 0.5V6.5M474.5 414.9V402.9M474.5 0.5V12.5M501.1 414.9V408.9M501.1 0.5V6.5M527.7 414.9V402.9M527.7 0.5V12.5M554.3 414.9V408.9M554.3 0.5V6.5M580.9 414.9V402.9M580.9 0.5V12.5M607.5 414.9V408.9M607.5 0.5V6.5M634.1 414.9V402.9M634.1 0.5V12.5M59.5 392.2H71.5M652.8 392.2H640.8M59.5 346.1H65.5M652.8 346.1H646.8M59.5 300H71.5M652.8 300H640.8M59.5 253.8H65.5M652.8 253.8H646.8M59.5 207.6H71.5M652.8 207.6H640.8M59.5 161.55H65.5M652.8 161.55H646.8M59.5 115.5H71.5M652.8 115.5H640.8M59.5 69.5H65.5M652.8 69.5H646.8M59.5 23.5H71.5M652.8 23.5H640.8" stroke="#222" stroke-width="1" fill="none"/>
<path d="M59.5 0V415.5" stroke="#333" stroke-width="1.25"/><path d="M59 0.5H653.5" stroke="#111" stroke-width="1.2"/><path d="M652.8 0V415.6" stroke="#555" stroke-width="1.6"/><path d="M59 414.9H653.6" stroke="#555" stroke-width="1.6"/>
<g class="t"><text x="0" y="0" font-size="21.03" transform="translate(18.50 30.08) scale(0.957 1)">0.14</text><text x="0" y="0" font-size="21.03" transform="translate(18.50 122.53) scale(0.957 1)">0.12</text><text x="0" y="0" font-size="21.03" transform="translate(18.50 214.78) scale(0.957 1)">0.10</text><text x="0" y="0" font-size="21.03" transform="translate(18.50 307.03) scale(0.957 1)">0.08</text><text x="0" y="0" font-size="21.03" transform="translate(18.50 399.28) scale(0.957 1)">0.06</text></g>
<g class="t" font-size="21" text-anchor="middle"><text x="102.1" y="434.7">2</text><text x="155.3" y="434.7">4</text><text x="208.5" y="434.7">6</text><text x="261.7" y="434.7">8</text><text x="314.9" y="434.7">10</text><text x="368.1" y="434.7">12</text><text x="421.3" y="434.7">14</text><text x="474.5" y="434.7">16</text><text x="527.7" y="434.7">18</text><text x="580.9" y="434.7">20</text><text x="634.1" y="434.7">22</text></g>
<g fill="none" stroke="#000"><ellipse cx="7.6" cy="208.7" rx="5.95" ry="5.1" stroke-width="1.45"/><path d="M1.75 199.4V208.8" stroke-width="1.5"/></g>
<g class="t"><text x="0" y="0" font-size="22.58" font-style="italic" transform="translate(292.44 458.61) scale(1.219 1)">n</text><text x="0" y="0" font-size="20.00" transform="translate(306.56 459.20) scale(1.538 1)">=</text><text x="0" y="0" font-size="23.16" transform="translate(324.17 458.37) scale(1.221 1)">ω</text><text x="0" y="0" font-size="16.13" font-style="italic" transform="translate(342.02 463.08) scale(1.211 1)">n</text><text x="0" y="0" font-size="24.36" transform="translate(356.50 460.76) scale(0.970 1)">/</text><text x="0" y="0" font-size="22.42" transform="translate(368.30 460.60) scale(1.193 1)">2</text><text x="0" y="0" font-size="23.66" transform="translate(382.86 460.36) scale(0.952 1)">π</text><text x="0" y="0" font-size="23.38" font-style="italic" transform="translate(397.16 461.00) scale(1.011 1)">T</text></g>
<g class="t" font-size="21">
<text x="380.7" y="43.2">β=300</text>
<text x="380.7" y="70.5">β=350</text>
<text x="380.7" y="97.8">β=390</text>
<text x="380.7" y="125.1">β=400</text>
<text x="485.3" y="43.2">β=450</text>
<text x="485.3" y="70.5">β=500</text>
<text x="485.3" y="97.8">β=600</text>
<g class="t"><text x="0" y="0" font-size="20.46" font-style="italic" transform="translate(486.88 128.80) scale(0.855 1)">L</text><text x="0" y="0" font-size="21.58" transform="translate(516.85 129.06) scale(1.102 1)">∞</text><text x="0" y="0" font-size="21.57" transform="translate(536.62 128.26) scale(1.023 1)">,</text><text x="0" y="0" font-size="19.12" transform="translate(548.62 128.88) scale(1.190 1)">β</text><text x="0" y="0" font-size="21.58" transform="translate(580.27 129.06) scale(1.073 1)">∞</text></g><g fill="#000" stroke="none"><path d="M500.4 121.95H511.2V122.85H500.4Z"/><path d="M510.3 120.6L514.8 122.4L510.3 124.2Z"/><path d="M564.3 121.95H575V122.85H564.3Z"/><path d="M574.2 120.6L578.7 122.4L574.2 124.2Z"/></g>
<text x="486.5" y="151.5">ﬁtting</text>
</g>
<g stroke="#000" stroke-width="1.5"><circle cx="359.2" cy="39.2" r="3.85" fill="#fff"/><path d="M359.2 71L363.1 64L355.3 64Z" fill="#fff"/><path d="M355.4 93.9L362.4 90L362.4 97.8Z" fill="#fff"/><path d="M363 121.5L356 117.6L356 125.4Z" fill="#1ee22a"/><path d="M463.7 35.4L467.6 42.4L459.8 42.4Z" fill="#fff"/><path d="M463.7 62.5L467.65 66.6L463.7 70.7L459.75 66.6Z" fill="#fff"/><rect x="460.3" y="90.5" width="6.8" height="6.8" fill="#fff"/><circle cx="463.7" cy="122.2" r="3.9" fill="#000"/><path d="M452.3 148.1H474.7" stroke-width="1.6"/></g>

</svg>
</body></html>
